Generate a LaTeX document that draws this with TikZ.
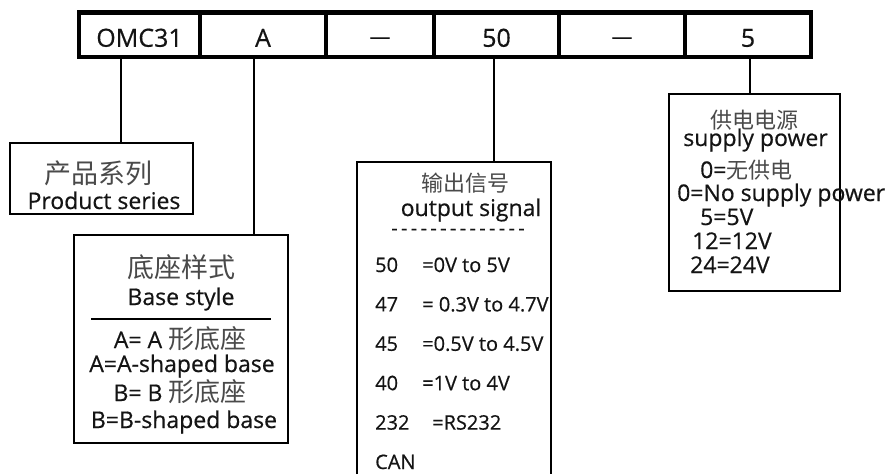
\documentclass[tikz,border=0pt]{standalone}
\usepackage{fontspec}
\setmainfont{Open Sans}[FakeBold=0.5]
\newfontfamily\cjk{Noto Sans CJK SC}
\definecolor{ink}{HTML}{141414}
\definecolor{hanzi}{HTML}{4A4A4A}
\newcommand\cn[2][26]{{\cjk\color{hanzi}\fontsize{#1}{#1}\selectfont#2}}

\begin{document}
\begin{tikzpicture}[x=1pt,y=-1pt,
  cell/.style={draw,line width=4.8pt,minimum height=44.5pt,inner sep=0pt,outer sep=0pt,
    text height=24pt,text depth=0pt,text=ink,font=\fontsize{25}{30}\selectfont},
  box/.style={draw,line width=1.8pt,inner sep=0pt,outer sep=0pt},
  link/.style={line width=1.8pt},
  txt/.style={anchor=base,inner sep=0pt,text=ink,font=\fontsize{23}{28}\selectfont},
  entry/.style={anchor=base west,inner sep=0pt,text=ink,font=\fontsize{20}{24}\selectfont}
]
  \path[use as bounding box,fill=white] (0,0) rectangle (896,474);

  % code bar
  \node[cell,minimum width=121pt] (omc) at (139.5,34.75) {OMC31};
  \node[cell,minimum width=126pt] (shape) at (263,34.75) {A};
  \node[cell,minimum width=108pt] (dashA) at (380,34.75) {\raisebox{3pt}{\fontsize{21}{24}\selectfont —}};
  \node[cell,minimum width=125pt] (sig) at (496.5,34.75) {50};
  \node[cell,minimum width=126pt] (dashB) at (622,34.75) {\raisebox{3pt}{\fontsize{21}{24}\selectfont —}};
  \node[cell,minimum width=126pt] (pwr) at (748,34.75) {5};

  % product series
  \node[box,minimum width=183pt,minimum height=71pt] (serBox) at (101.5,178.5) {};
  \node[txt] (serCn) at (98,183) {\cn[27]{产品系列}};
  \node[txt] (serEn) at (104,209) {Product series};
  \draw[link] ([xshift=-18.5pt]omc.south) -- ([xshift=-18.5pt]omc.south |- serBox.north);

  % base style
  \node[box,minimum width=214pt,minimum height=208pt] (baseBox) at (181,339) {};
  \node[txt] (baseCn) at (181,277) {\cn[27]{底座样式}};
  \node[txt] (baseEn) at (181,305) {Base style};
  \draw[line width=2pt] (91,319) -- (271,319);
  \node[txt] (baseA) at (180,348) {A= A \cn{形底座}};
  \node[txt] (baseAen) at (182,372) {A=A-shaped base};
  \node[txt] (baseB) at (180,401) {B= B \cn{形底座}};
  \node[txt] (baseBen) at (184,428) {B=B-shaped base};
  \draw[link] ([xshift=-9pt]shape.south) -- ([xshift=-9pt]shape.south |- baseBox.north);

  % output signal (runs off the bottom)
  \node[minimum width=194pt,minimum height=312pt,inner sep=0pt,outer sep=0pt] (sigBox) at (454,318) {};
  \draw[link] (sigBox.south west) |- (sigBox.north east) -- (sigBox.south east);
  \node[txt] (sigCn) at (465,191) {\cn[22]{输出信号}};
  \node[txt] (sigEn) at (471,216) {output signal};
  \node[txt,font=\fontsize{20}{24}\selectfont] (sigRule) at (458,235) {-\,-\,-\,-\,-\,-\,-\,-\,-\,-\,-\,-\,-\,-};
  \node[entry] (sig50) at (375,272) {\makebox[47pt][l]{50}=0V to 5V};
  \node[entry] (sig47) at (375,311.4) {\makebox[47pt][l]{47}= 0.3V to 4.7V};
  \node[entry] (sig45) at (375,350.8) {\makebox[47pt][l]{45}=0.5V to 4.5V};
  \node[entry] (sig40) at (375,390.2) {\makebox[47pt][l]{40}=1V to 4V};
  \node[entry] (sig232) at (375,429.6) {\makebox[57pt][l]{232}=RS232};
  \node[entry] (sigCAN) at (375,469) {CAN};
  \draw[link] ([xshift=-2.5pt]sig.south) -- ([xshift=-2.5pt]sig.south |- sigBox.north);

  % supply power
  \node[box,minimum width=171pt,minimum height=197pt] (pwrBox) at (754.5,192.5) {};
  \node[txt] (pwrCn) at (754,128) {\cn[22]{供电电源}};
  \node[txt] (pwrEn) at (755.5,146) {supply power};
  \node[entry,font=\fontsize{23}{28}\selectfont] (pwr0) at (700,178) {0=\cn[22]{无供电}};
  \node[entry,font=\fontsize{23}{28}\selectfont] (pwr0en) at (677,201) {0=No supply power};
  \node[entry,font=\fontsize{23}{28}\selectfont] (pwr5) at (700,225) {5=5V};
  \node[entry,font=\fontsize{23}{28}\selectfont] (pwr12) at (692,249) {12=12V};
  \node[entry,font=\fontsize{23}{28}\selectfont] (pwr24) at (690,273) {24=24V};
  \draw[link] ([xshift=2pt]pwr.south) -- ([xshift=2pt]pwr.south |- pwrBox.north);
\end{tikzpicture}
\end{document}
